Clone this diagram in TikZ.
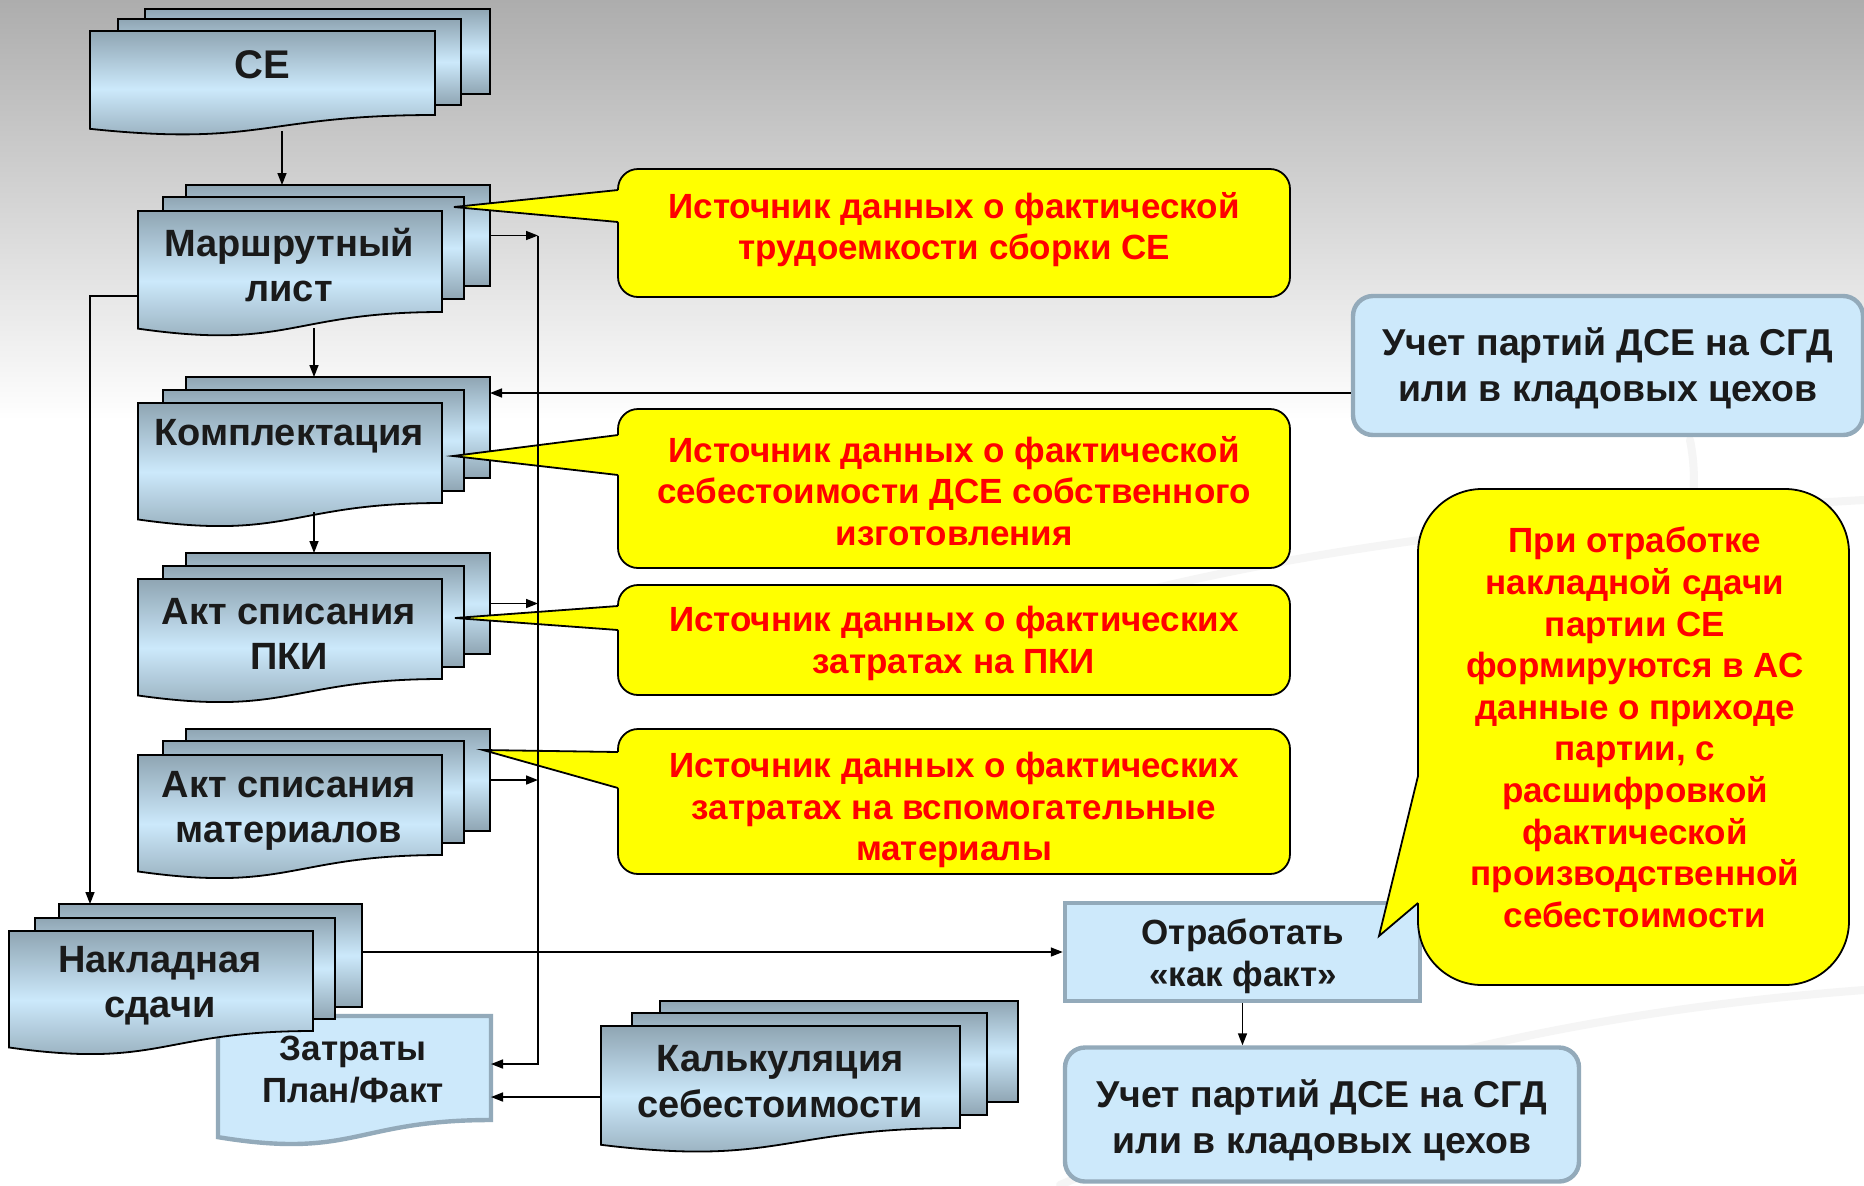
\documentclass[tikz,border=0pt]{standalone}
\usepackage{fontspec}
\setmainfont{Liberation Sans}
\usetikzlibrary{arrows.meta,calc}
\definecolor{docdark}{HTML}{8FA5B3}
\definecolor{doclight}{HTML}{CCE9FB}
\definecolor{boxfill}{HTML}{CDE9FB}
\definecolor{boxborder}{HTML}{93AABA}
\definecolor{txt}{HTML}{1A1A1A}
\definecolor{bggray}{HTML}{ADADAD}
\definecolor{callred}{HTML}{FF0000}
\definecolor{callyellow}{HTML}{FFFF00}
\definecolor{swoosh}{HTML}{F5F5F5}
\newcommand\layer[5]{\node[layerbox, minimum width={(#4-#2)*0.5pt}, minimum height={(#5-#3)*0.5pt}] (#1) at ({(#2+#4)/2},{(#3+#5)/2}) {};}
\newcommand\docshape[6]{%
  \pgfmathsetmacro\dochh{(#6-#4)/0.802}%
  \pgfmathsetmacro\docyl{#4+0.934*\dochh}%
  \pgfmathsetmacro\docyc{#4+1.107*\dochh}%
  \pgfmathsetmacro\docxm{(#3+#5)/2}%
  \path[#1] (#3,#4) -- (#5,#4) -- (#5,#6) .. controls (\docxm,#6) and (\docxm,\docyc) .. (#3,\docyl) -- cycle;
  \node[inner sep=0pt, outer sep=0pt, minimum width={(#5-#3)*0.5pt}, minimum height={(#6-#4)*0.5pt}] (#2) at (\docxm,{(#4+#6)/2}) {};
}
\newcommand\callout[9]{%
  \node[callbox, minimum width={(#4-#2)*0.5pt}, minimum height={(#5-#3)*0.5pt}] (#1) at ({(#2+#4)/2},{(#3+#5)/2}) {};
  \fill[callyellow] (#6,#7) -- (#2,#8) -- (#2+4,#8) -- (#2+4,#9) -- (#2,#9) -- cycle;
  \draw[line width=0.9pt, line join=miter] (#2,#8) -- (#6,#7) -- (#2,#9);
}
\begin{document}
\begin{tikzpicture}[x=0.5pt,y=-0.5pt,
  layerbox/.style={draw=black, line width=0.9pt, top color=docdark, bottom color=docdark, middle color=doclight, inner sep=0pt, outer sep=0pt},
  docpath/.style={draw=black, line width=0.9pt, top color=docdark, bottom color=docdark, middle color=doclight},
  plainpath/.style={draw=boxborder, line width=2.2pt, fill=boxfill},
  doctext/.style={font=\bfseries\fontsize{19}{22.6}\selectfont, text=txt, align=center, inner sep=0pt},
  smalltext/.style={font=\bfseries\fontsize{17.5}{20.8}\selectfont, text=txt, align=center, inner sep=0pt},
  uctext/.style={font=\bfseries\fontsize{18.7}{22.8}\selectfont, text=txt, align=center, inner sep=0pt},
  calltext/.style={font=\bfseries\fontsize{17.5}{20.8}\selectfont, text=callred, align=center, inner sep=0pt},
  callbox/.style={draw=black, line width=0.9pt, fill=callyellow, rounded corners=10pt, inner sep=0pt},
  bluebox/.style={draw=boxborder, line width=2.2pt, fill=boxfill, inner sep=0pt},
  arr/.style={line width=0.8pt, -{Triangle[length=6pt,width=4.5pt]}},
  swooshline/.style={draw=swoosh, line width=4pt, line cap=round},
]
% background
\fill[white] (0,0) rectangle (1864,1185);
\shade[top color=bggray, bottom color=white] (0,0) rectangle (1864,420);
\useasboundingbox (0,0) rectangle (1864,1185);
\path[swooshline] (1060,1185) .. controls (1350,1060) and (1600,1010) .. (1864,990);
\path[swooshline] (980,640) .. controls (1200,560) and (1500,520) .. (1864,500);
\path[swooshline] (1690,440) .. controls (1700,490) and (1690,540) .. (1670,600);

% ---- CE
\layer{ce3}{145}{9}{490}{94}
\layer{ce2}{118}{19}{461}{105}
\docshape{docpath}{ce}{90}{31}{435}{115}
\node[doctext, font=\bfseries\fontsize{20}{23}\selectfont] (ce-t) at (262,65) {СЕ};

% ---- Маршрутный лист
\layer{ml3}{186}{185}{490}{286}
\layer{ml2}{163}{197}{464}{299}
\docshape{docpath}{ml}{138}{211}{442}{312}
\node[doctext] (ml-t) at (289,265) {Маршрутный\\лист};

% ---- Комплектация
\layer{kp3}{186}{377}{490}{478}
\layer{kp2}{163}{390}{464}{491}
\docshape{docpath}{kp}{138}{403}{442}{503}
\node[doctext] (kp-t) at (289,436) {Комплектация};

% ---- Акт списания ПКИ
\layer{pk3}{186}{553}{490}{654}
\layer{pk2}{163}{566}{464}{667}
\docshape{docpath}{pk}{138}{579}{442}{679}
\node[doctext] (pk-t) at (289,634) {Акт списания\\ПКИ};

% ---- Акт списания материалов
\layer{mt3}{186}{729}{490}{831}
\layer{mt2}{163}{741}{464}{843}
\docshape{docpath}{mt}{138}{755}{442}{855}
\node[doctext] (mt-t) at (289,811) {Акт списания\\материалов};

% ---- Затраты План/Факт
\docshape{plainpath}{zt}{218}{1016}{491}{1120}

% ---- Накладная сдачи
\layer{nk3}{59}{904}{362}{1007}
\layer{nk2}{35}{918}{335}{1019}
\docshape{docpath}{nk}{9}{931}{313}{1031}
\node[doctext] (nk-t) at (160,986) {Накладная\\сдачи};
\node[smalltext] (zt-t) at (353,1069.5) {Затраты\\План/Факт};

% ---- Калькуляция себестоимости
\layer{kk3}{660}{1001}{1018}{1102}
\layer{kk2}{632}{1013}{987}{1115}
\docshape{docpath}{kk}{601}{1026}{960}{1128}
\node[doctext] (kk-t) at (780,1081.5) {Калькуляция\\себестоимости};

% ---- right boxes
\node[bluebox, rounded corners=10pt, minimum width=255pt, minimum height=69.5pt] (u1) at (1608,365.5) {};
\node[uctext] (u1-t) at (1608,368.5) {Учет партий ДСЕ на СГД\\или в кладовых цехов};
\node[bluebox, minimum width=177.5pt, minimum height=49pt] (otr) at (1242.5,952) {};
\node[smalltext] (otr-t) at (1243,956.5) {Отработать\\«как факт»};
\node[bluebox, rounded corners=10pt, minimum width=257pt, minimum height=67pt] (u2) at (1322,1114.5) {};
\node[uctext] (u2-t) at (1322,1120.5) {Учет партий ДСЕ на СГД\\или в кладовых цехов};

% ---- callouts
\callout{c1}{618}{169}{1290}{297}{454}{207}{190}{222}
\node[calltext] (c1-t) at (954,229.5) {Источник данных о фактической\\трудоемкости сборки СЕ};
\callout{c2}{618}{409}{1290}{568}{453}{456}{435}{475}
\node[calltext] (c2-t) at (954,491) {Источник данных о фактической\\себестоимости ДСЕ собственного\\изготовления};
\callout{c3}{618}{585}{1290}{695}{455}{618}{606}{630}
\node[calltext] (c3-t) at (954,643.5) {Источник данных о фактических\\затратах на ПКИ};
\callout{c4}{618}{729}{1290}{874}{483}{750}{752}{788}
\node[calltext] (c4-t) at (954,810) {Источник данных о фактических\\затратах на вспомогательные\\материалы};

% big callout
\node[callbox, rounded corners=32pt, minimum width=215.5pt, minimum height=248pt] (c5) at (1633.5,737) {};
\fill[callyellow] (1379,936) -- (1418,776) -- (1424,776) -- (1424,903) -- (1418,903) -- cycle;
\draw[line width=0.9pt, line join=miter] (1418,776) -- (1379,936) -- (1418,903);
\node[calltext] (c5-t) at (1635,727.5) {При отработке\\накладной сдачи\\партии СЕ\\формируются в АС\\данные о приходе\\партии, с\\расшифровкой\\фактической\\производственной\\себестоимости};

% ---- connectors
\coordinate (ce-out) at (282,131);
\draw[arr] (ce-out) -- (ce-out |- ml3.north);
\coordinate (ml-out) at (314,328);
\draw[arr] (ml-out) -- (ml-out |- kp3.north);
\coordinate (kp-out) at (314,512);
\draw[arr] (kp-out) -- (kp-out |- pk3.north);
\coordinate (ml-left) at (138,296);
\coordinate (nk-in) at (90,904);
\draw[arr] (ml-left) -| (nk-in);
\coordinate (bus) at (538,235.5);
\draw[arr] (ml3.east) -- (bus);
\draw[arr] (pk3.east) -- (pk3.east -| bus);
\draw[arr] (mt3.east) -- (mt3.east -| bus);
\coordinate (zt-in1) at (491,1064);
\coordinate (zt-in2) at (491,1097);
\draw[arr] (bus) -- (bus |- zt-in1) -- (zt-in1);
\draw[arr] (kk.west |- zt-in2) -- (zt-in2);
\coordinate (kp-in) at (490,393);
\draw[arr] (u1.west |- kp-in) -- (kp-in);
\draw[arr] (otr.west -| nk3.east) -- (otr.west);
\draw[arr] (otr.south) -- (otr.south |- u2.north);
\end{tikzpicture}
\end{document}
